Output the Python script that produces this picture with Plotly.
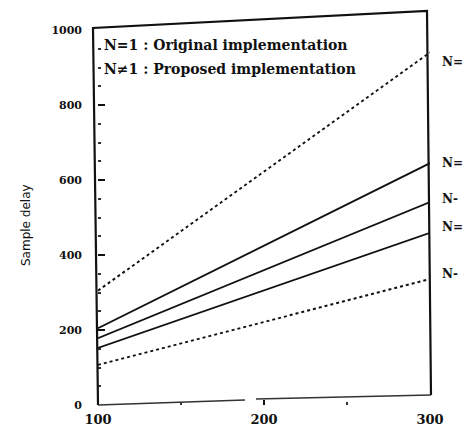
import plotly.graph_objects as go

# Block length range on the x axis
block_len = [100, 300]

# Sample delay for each configuration (endpoints of straight lines)
delay_dotted_high = [305, 940]
delay_solid_a = [205, 645]
delay_solid_b = [178, 541]
delay_solid_c = [152, 459]
delay_dotted_low = [107, 336]

series = [
    (delay_dotted_high, "dot", 1.9),
    (delay_solid_a, "solid", 1.8),
    (delay_solid_b, "solid", 1.8),
    (delay_solid_c, "solid", 1.8),
    (delay_dotted_low, "dot", 1.9),
]

# Labels at the right end of each line
end_labels = ["N=", "N=", "N-", "N=", "N-"]
end_label_y = [915, 645, 550, 475, 350]

y_ticks = [0, 200, 400, 600, 800, 1000]
x_ticks = [100, 200, 300]

fig = go.Figure()
for vals, dash, w in series:
    fig.add_trace(go.Scatter(
        x=block_len, y=vals, mode="lines",
        line=dict(color="#111111", width=w, dash=dash),
        showlegend=False, hoverinfo="skip",
    ))

W, H = 466, 438
L, R, T, B = 98, 430, 30, 405


def px(xp, yp):
    return (xp - L) / (R - L), (B - yp) / (B - T)


# Slightly skewed outer frame
tl = px(93, 28)
tr = px(427, 11)
br = px(431, 395)
bl = px(98, 405)
fig.add_shape(type="path", xref="paper", yref="paper",
              path=f"M {bl[0]} {bl[1]} L {tl[0]} {tl[1]} L {tr[0]} {tr[1]} L {br[0]} {br[1]}",
              line=dict(color="#111111", width=2.2))
# Bottom edge, thin and broken
mid1 = px(245, 400)
mid2 = px(256, 399)
fig.add_shape(type="line", xref="paper", yref="paper",
              x0=bl[0], y0=bl[1], x1=mid1[0], y1=mid1[1],
              line=dict(color="#333333", width=1.3))
fig.add_shape(type="line", xref="paper", yref="paper",
              x0=mid2[0], y0=mid2[1], x1=br[0], y1=br[1],
              line=dict(color="#333333", width=1.3))

serif = "DejaVu Serif"
fig.add_annotation(xref="paper", yref="paper", x=px(102, 45)[0], y=px(102, 45)[1],
                   text="<b>N=1 : Original implementation</b>", showarrow=False,
                   xanchor="left", yanchor="middle",
                   font=dict(family=serif, size=14, color="#111111"))
fig.add_annotation(xref="paper", yref="paper", x=px(102, 69)[0], y=px(102, 69)[1],
                   text="<b>N≠1 : Proposed implementation</b>", showarrow=False,
                   xanchor="left", yanchor="middle",
                   font=dict(family=serif, size=14, color="#111111"))

for lab, yv in zip(end_labels, end_label_y):
    fig.add_annotation(xref="paper", yref="y", x=px(440, 0)[0], y=yv,
                       text=f"<b>{lab}</b>", showarrow=False,
                       xanchor="left", yanchor="middle",
                       font=dict(family=serif, size=12, color="#111111"))

fig.add_annotation(xref="paper", yref="paper", x=px(17, 0)[0], y=px(0, 225)[1],
                   text="Sample delay", textangle=-90, showarrow=False,
                   font=dict(family="DejaVu Sans", size=12, color="#111111"))

fig.update_xaxes(range=[100, 300], tickvals=x_ticks, ticks="inside", ticklen=5,
                 tickcolor="#111111", tickwidth=1.5, showline=False, showgrid=False,
                 zeroline=False,
                 minor=dict(dtick=50, ticks="inside", ticklen=3, tickcolor="#333333"),
                 tickfont=dict(family=serif, size=13, color="#111111", weight="bold"),
                 ticklabelstandoff=5)
fig.update_yaxes(range=[0, 1000], tickvals=y_ticks, ticks="inside", ticklen=7,
                 tickcolor="#111111", tickwidth=1.5, showline=False, showgrid=False,
                 zeroline=False,
                 minor=dict(dtick=50, ticks="inside", ticklen=3, tickcolor="#333333"),
                 tickfont=dict(family=serif, size=11, color="#111111", weight="bold"),
                 ticklabelstandoff=15)

fig.update_layout(width=W, height=H,
                  margin=dict(l=L, r=W - R, t=T, b=H - B),
                  plot_bgcolor="white", paper_bgcolor="white")

fig.write_html("out.html")
